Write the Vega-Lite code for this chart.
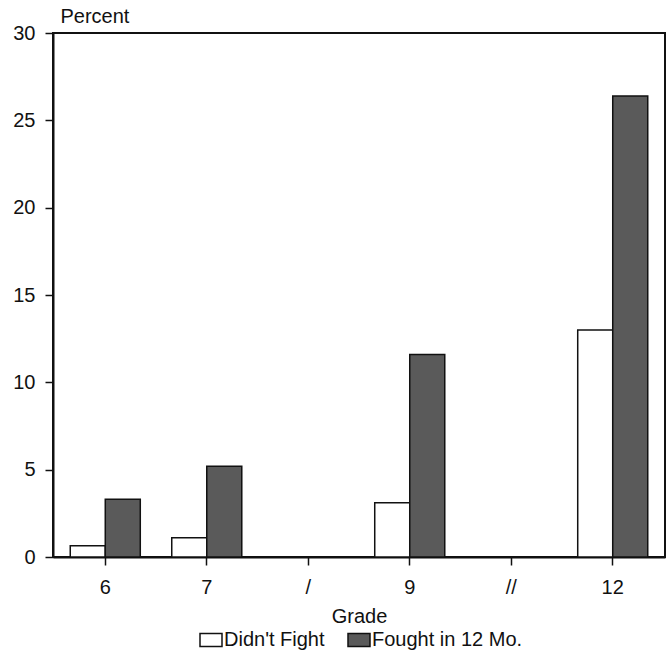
{
  "$schema": "https://vega.github.io/schema/vega-lite/v6.json",
  "autosize": {"type": "none"},
  "padding": {"left": 53, "top": 33, "right": 5, "bottom": 99},
  "width": 612,
  "height": 524,
  "background": "white",
  "config": {
    "font": "Liberation Sans",
    "view": {"stroke": "#111", "strokeWidth": 2},
    "axis": {"labelColor": "#111", "titleColor": "#111", "labelFontWeight": "normal", "titleFontWeight": "normal"}
  },
  "data": {
    "values": [
      {"grade": "6", "group": "Didn't Fight", "percent": 0.65},
      {"grade": "6", "group": "Fought in 12 Mo.", "percent": 3.3},
      {"grade": "7", "group": "Didn't Fight", "percent": 1.1},
      {"grade": "7", "group": "Fought in 12 Mo.", "percent": 5.2},
      {"grade": "9", "group": "Didn't Fight", "percent": 3.1},
      {"grade": "9", "group": "Fought in 12 Mo.", "percent": 11.6},
      {"grade": "12", "group": "Didn't Fight", "percent": 13.0},
      {"grade": "12", "group": "Fought in 12 Mo.", "percent": 26.4}
    ]
  },
  "mark": {"type": "bar", "stroke": "#111", "strokeWidth": 1.5},
  "encoding": {
    "x": {
      "field": "grade",
      "type": "nominal",
      "sort": null,
      "scale": {"domain": ["6", "7", "/", "9", "//", "12"], "paddingInner": 0.31, "paddingOuter": 0.17},
      "axis": {
        "title": "Grade",
        "titleFontSize": 20,
        "titleY": 65,
        "titleBaseline": "alphabetic",
        "labelFontSize": 20,
        "labelAngle": 0,
        "labelBaseline": "alphabetic",
        "labelPadding": 28,
        "tickSize": 8,
        "tickColor": "#111",
        "tickWidth": 1.5,
        "domainColor": "#111",
        "domainWidth": 2
      }
    },
    "xOffset": {
      "field": "group",
      "type": "nominal",
      "scale": {"paddingInner": 0, "paddingOuter": 0}
    },
    "y": {
      "field": "percent",
      "type": "quantitative",
      "scale": {"domain": [0, 30], "nice": false},
      "axis": {
        "title": "Percent",
        "titleAngle": 0,
        "titleAlign": "left",
        "titleBaseline": "alphabetic",
        "titleX": 7,
        "titleY": -11,
        "titleFontSize": 20,
        "labelFontSize": 20,
        "labelPadding": 10,
        "tickSize": 8,
        "tickColor": "#111",
        "tickWidth": 1.5,
        "domainColor": "#111",
        "domainWidth": 2,
        "grid": false,
        "values": [0, 5, 10, 15, 20, 25, 30]
      }
    },
    "color": {
      "field": "group",
      "type": "nominal",
      "scale": {"domain": ["Didn't Fight", "Fought in 12 Mo."], "range": ["#ffffff", "#5a5a5a"]},
      "legend": {
        "title": null,
        "orient": "none",
        "direction": "horizontal",
        "legendX": 146,
        "legendY": 595,
        "padding": 0,
        "symbolType": "M-1,-0.6H1V0.6H-1Z",
        "symbolSize": 484,
        "symbolStrokeColor": "#111",
        "symbolStrokeWidth": 1.5,
        "symbolOpacity": 1,
        "labelFontSize": 20,
        "labelColor": "#111",
        "labelOffset": 1,
        "columnPadding": 20,
        "labelLimit": 300
      }
    }
  }
}
